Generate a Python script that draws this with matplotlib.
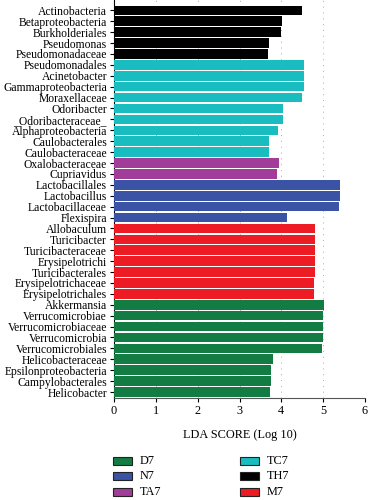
import matplotlib
matplotlib.use("Agg")
import matplotlib.pyplot as plt
from matplotlib.patches import Rectangle

taxa = ["Actinobacteria", "Betaproteobacteria", "Burkholderiales", "Pseudomonas",
        "Pseudomonadaceae", "Pseudomonadales", "Acinetobacter", "Gammaproteobacteria",
        "Moraxellaceae", "Odoribacter", "_Odoribacteraceae_", "Alphaproteobacteria",
        "Caulobacterales", "Caulobacteraceae", "Oxalobacteraceae", "Cupriavidus",
        "Lactobacillales", "Lactobacillus", "Lactobacillaceae", "Flexispira",
        "Allobaculum", "Turicibacter", "Turicibacteraceae", "Erysipelotrichi",
        "Turicibacterales", "Erysipelotrichaceae", "Erysipelotrichales", "Akkermansia",
        "Verrucomicrobiae", "Verrucomicrobiaceae", "Verrucomicrobia", "Verrucomicrobiales",
        "Helicobacteraceae", "Epsilonproteobacteria", "Campylobacterales", "Helicobacter"]
lda = [4.49, 4.02, 4.00, 3.71,
       3.69, 4.53, 4.53, 4.53,
       4.50, 4.05, 4.03, 3.91,
       3.70, 3.70, 3.94, 3.90,
       5.40, 5.40, 5.37, 4.13,
       4.80, 4.80, 4.80, 4.80,
       4.80, 4.78, 4.78, 5.02,
       5.00, 5.00, 4.99, 4.98,
       3.79, 3.76, 3.75, 3.73]
groups = ["TH7"] * 5 + ["TC7"] * 9 + ["TA7"] * 2 + ["N7"] * 4 + ["M7"] * 7 + ["D7"] * 9

legend_order = ["D7", "N7", "TA7", "TC7", "TH7", "M7"]
colors = {"D7": "#137c43", "N7": "#3a53a4", "TA7": "#a13d98", "TC7": "#19bdbf",
          "TH7": "#000000", "M7": "#ed1c24"}
xticks = [0, 1, 2, 3, 4, 5, 6]

plt.rcParams['font.family'] = ['Liberation Serif', 'DejaVu Serif']
FS = 8.8
FSY = 8.4

W, H = 368, 500
fig = plt.figure(figsize=(W / 100, H / 100), dpi=100)
ax = fig.add_axes([114 / W, 1 - 398 / H, (365 - 114) / W, 398 / H])

n = len(taxa)
ypos = [n - 1 - i for i in range(n)]
ax.barh(ypos, lda, height=0.88, color=[colors[g] for g in groups], zorder=3)

ax.set_xlim(0, 6)
ax.set_ylim(-0.55, n - 1 + 0.95)
ax.set_yticks(ypos)
ax.set_yticklabels(taxa, fontsize=FSY)
ax.set_xticks(xticks)
ax.set_xticklabels([str(t) for t in xticks], fontsize=FS)
ax.tick_params(axis='y', length=3, width=0.8, pad=2)
ax.tick_params(axis='x', length=3, width=0.8, pad=2)
ax.xaxis.grid(True, linestyle=(0, (1, 5)), color='#aaaaaa', linewidth=0.7, zorder=0)
for s in ['top', 'right']:
    ax.spines[s].set_visible(False)
ax.spines['left'].set_color('black')
ax.spines['bottom'].set_color('#555555')
ax.set_xlabel("LDA SCORE (Log 10)", fontsize=FS, labelpad=9)

# manual legend (two columns of three)
col_x = [113, 240]
row_y = [461, 476, 492]
for k, g in enumerate(legend_order):
    cx = col_x[k // 3]
    cy = row_y[k % 3]
    fig.add_artist(Rectangle((cx / W, 1 - (cy + 3.7) / H), 19 / W, 7.4 / H,
                             transform=fig.transFigure, facecolor=colors[g],
                             edgecolor='#222222', linewidth=0.8))
    fig.text((cx + 27) / W, 1 - cy / H, g, fontsize=FS, va='center', ha='left')

fig.savefig("out.png", dpi=100)
